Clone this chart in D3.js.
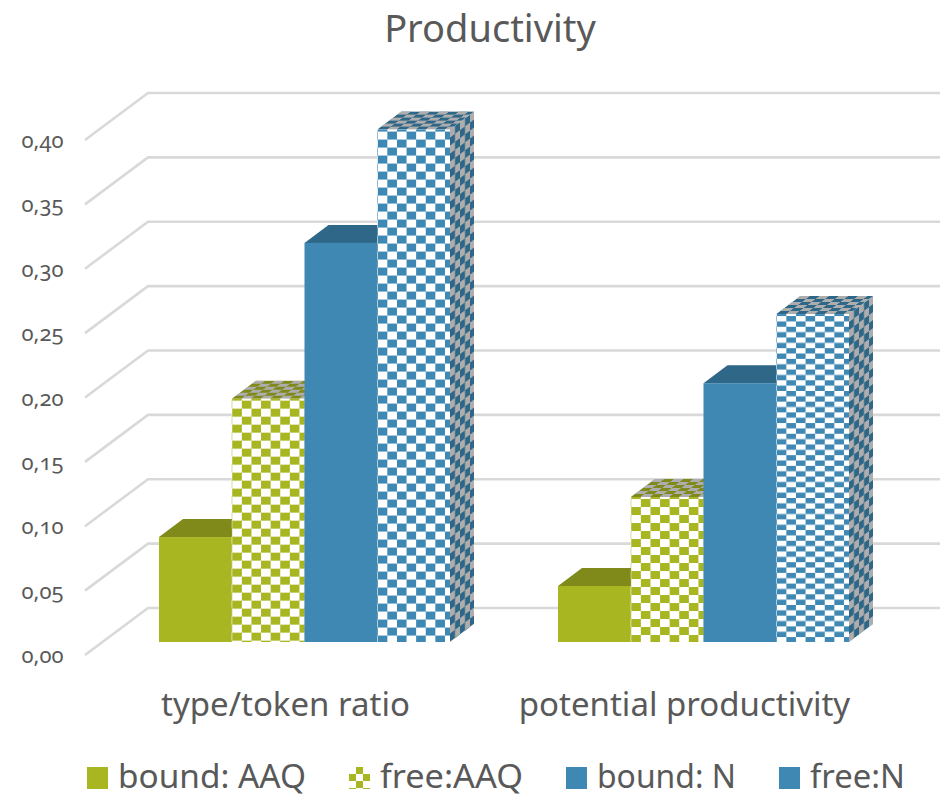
<!DOCTYPE html>
<html>
<head>
<meta charset="utf-8">
<script src="https://cdn.jsdelivr.net/npm/d3@7"></script>
<style>
  html, body { margin: 0; padding: 0; background: #fff; }
  svg { display: block; }
  text { fill: #595959; font-family: "Noto Sans", "Open Sans", sans-serif; }
  .tick-label { font-feature-settings: "onum" 1; }
</style>
</head>
<body>
<svg id="chart" width="940" height="797"></svg>
<script>
const categories = ["type/token ratio", "potential productivity"];
const seriesNames = ["bound: AAQ", "free:AAQ", "bound: N", "free:N"];
const boundAAQ = [0.0815, 0.0435];
const freeAAQ = [0.189, 0.1126];
const boundN = [0.31, 0.201];
const freeN = [0.398, 0.2547];
const tickValues = [0, 0.05, 0.10, 0.15, 0.20, 0.25, 0.30, 0.35, 0.40];

const seriesValues = [boundAAQ, freeAAQ, boundN, freeN];
const seriesHatched = [false, true, false, true];
const legendHatched = [false, true, false, false];
const seriesColor = ["#a8b622", "#a8b622", "#3f88b4", "#3f88b4"];
const seriesDark = ["#7f8a1a", "#7f8a1a", "#2f6788", "#2f6788"];

const svg = d3.select("#chart");
const defs = svg.append("defs");

// Bars stand on a floor 642 down; the scale gives heights at bar depth.
const floorY = 642;
const y = d3.scaleLinear().domain([0, 0.4]).range([floorY, floorY - 515]);
const clusterX = d3.scaleBand().domain(categories).range([105, 903])
  .paddingInner(108 / 399).paddingOuter(54 / 399);
const barX = d3.scaleBand().domain(seriesNames).range([0, clusterX.bandwidth()]);

// Projection offsets of the 3D box
const wall = { dx: 63, dy: -47 };
const front = { dy: 13 };
const barDepth = { dx: 24, dy: -18 };
const gridRight = 940;

// Gridlines: slanted side wall plus the horizontal back wall
const grid = svg.append("g").attr("fill", "none").attr("stroke", "#d9d9d9");
tickValues.forEach(v => {
  const yFront = y(v) + front.dy;
  const xFront = 85;
  const xBack = xFront + wall.dx;
  const yBack = yFront + wall.dy;
  grid.append("path")
    .attr("stroke-width", 2.6)
    .attr("stroke-linejoin", "miter")
    .attr("d", d3.line()([[xFront, yFront], [xBack, yBack], [gridRight, yBack]]));
  svg.append("text").attr("class", "tick-label")
    .attr("x", 63.5).attr("y", yFront + 8)
    .attr("text-anchor", "end").attr("font-size", 22)
    .text(d3.format(".2f")(v).replace(".", ","));
});

// Checker fill for a front, top or side face
function checker(id, x0, y0, w, h, a, b, transform) {
  const p = defs.append("pattern").attr("id", id)
    .attr("patternUnits", "userSpaceOnUse")
    .attr("x", x0).attr("y", y0)
    .attr("width", w * 2).attr("height", h * 2);
  if (transform) p.attr("patternTransform", transform);
  p.append("rect").attr("width", w * 2).attr("height", h * 2).attr("fill", a);
  p.append("rect").attr("x", w).attr("width", w).attr("height", h).attr("fill", b);
  p.append("rect").attr("y", h).attr("width", w).attr("height", h).attr("fill", b);
  return `url(#${id})`;
}

const poly = pts => d3.line()(pts) + "Z";
const gray = "#adadad";

categories.forEach((cat, ci) => {
  seriesNames.forEach((name, si) => {
    const v = seriesValues[si][ci];
    const x0 = clusterX(cat) + barX(name);
    const x1 = x0 + barX.bandwidth();
    const yTop = y(v);
    const g = svg.append("g");
    const cellH = ci === 1 && si === 3 ? 5.35 : 8;
    const fFill = seriesHatched[si]
      ? checker(`front${ci}${si}`, x0 + 0.5, yTop + 2, 9.6, cellH, "#ffffff", seriesColor[si])
      : seriesColor[si];
    const tFill = seriesHatched[si]
      ? checker(`top${ci}${si}`, 0, 0, 9.6, 3, gray, seriesDark[si],
          `translate(${x0},${yTop}) skewX(${-Math.atan(barDepth.dx / -barDepth.dy) * 180 / Math.PI})`)
      : seriesDark[si];
    const sFill = seriesHatched[si]
      ? checker(`side${ci}${si}`, 0, 0, 5, 8, gray, seriesDark[si],
          `translate(${x1},${yTop}) skewY(${Math.atan(barDepth.dy / barDepth.dx) * 180 / Math.PI})`)
      : seriesDark[si];
    g.append("path").attr("fill", sFill).attr("d", poly([
      [x1, yTop], [x1 + barDepth.dx, yTop + barDepth.dy],
      [x1 + barDepth.dx, floorY + barDepth.dy], [x1, floorY]]));
    g.append("path").attr("fill", tFill).attr("d", poly([
      [x0, yTop], [x0 + barDepth.dx, yTop + barDepth.dy],
      [x1 + barDepth.dx, yTop + barDepth.dy], [x1, yTop]]));
    g.append("rect").attr("x", x0).attr("y", yTop)
      .attr("width", x1 - x0).attr("height", floorY - yTop).attr("fill", fFill);
  });
  svg.append("text")
    .attr("x", clusterX(cat) + clusterX.bandwidth() / 2 - 19)
    .attr("y", 716).attr("text-anchor", "middle").attr("font-size", 33)
    .text(cat);
});

// Title
svg.append("text").attr("x", 490).attr("y", 42)
  .attr("text-anchor", "middle").attr("font-size", 38).text("Productivity");

// Legend
const legendX = [87, 349, 566, 779];
const legendTextWidth = [188, 143, 139, 95];
seriesNames.forEach((name, si) => {
  const fill = legendHatched[si]
    ? checker(`legend${si}`, legendX[si], 767, 7, 7, "#ffffff", seriesColor[si])
    : seriesColor[si];
  svg.append("rect").attr("x", legendX[si]).attr("y", 767)
    .attr("width", 21).attr("height", 22).attr("fill", fill);
  svg.append("text").attr("x", legendX[si] + 31).attr("y", 788)
    .attr("font-size", 33)
    .attr("textLength", legendTextWidth[si]).attr("lengthAdjust", "spacingAndGlyphs")
    .text(name);
});
</script>
</body>
</html>
